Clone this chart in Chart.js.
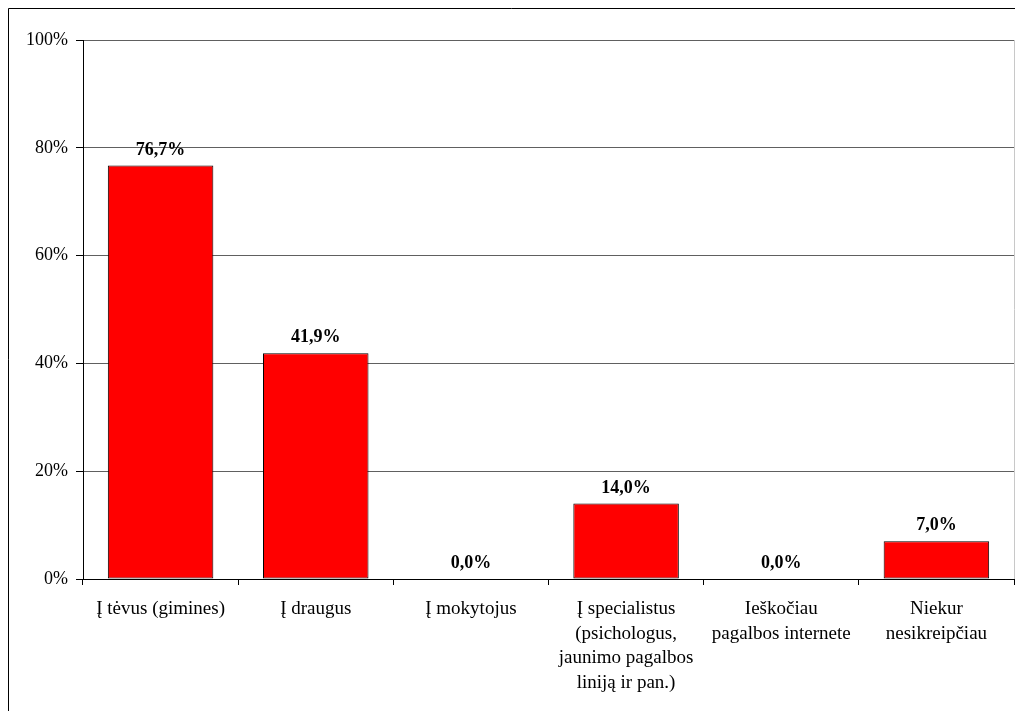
<!DOCTYPE html>
<html>
<head>
<meta charset="utf-8">
<script src="https://cdn.jsdelivr.net/npm/chart.js@4"></script>
<style>
  html, body { margin: 0; padding: 0; background: #fff; }
  #wrap { position: relative; width: 1015px; height: 711px; }
</style>
</head>
<body>
<div id="wrap"><canvas id="c" width="1015" height="711"></canvas></div>
<script>
// categories (multi-line labels as shown under the axis)
const categories = [
  ["Į tėvus (gimines)"],
  ["Į draugus"],
  ["Į mokytojus"],
  ["Į specialistus", "(psichologus,", "jaunimo pagalbos", "liniją ir pan.)"],
  ["Ieškočiau", "pagalbos internete"],
  ["Niekur", "nesikreipčiau"],
];
const values = [76.7, 41.9, 0.0, 14.0, 0.0, 7.0];
const yTicks = [0, 20, 40, 60, 80, 100];

const SERIF = "'Liberation Serif', 'Times New Roman', serif";

// outer frame (left + top edge of the chart object)
const framePlugin = {
  id: "frame",
  beforeDraw(chart) {
    const c = chart.ctx;
    c.save();
    c.fillStyle = "#fff";
    c.fillRect(0, 0, chart.width, chart.height);
    c.strokeStyle = "#000"; c.lineWidth = 1;
    c.beginPath();
    c.moveTo(8.5, chart.height); c.lineTo(8.5, 8.5); c.lineTo(chart.width, 8.5);
    c.stroke();
    // light plot-area border on the right
    const a = chart.chartArea;
    c.strokeStyle = "#c8c8c8";
    c.beginPath(); c.moveTo(a.right + 0.5, a.top); c.lineTo(a.right + 0.5, a.bottom); c.stroke();
    c.restore();
  }
};

// value labels above bars, "76,7%" style
const labelPlugin = {
  id: "vals",
  afterDatasetsDraw(chart) {
    const c = chart.ctx, meta = chart.getDatasetMeta(0);
    c.save();
    c.font = "bold 18px " + SERIF;
    c.fillStyle = "#000"; c.textAlign = "center"; c.textBaseline = "alphabetic";
    meta.data.forEach((bar, i) => {
      c.fillText(values[i].toFixed(1).replace(".", ",") + "%", bar.x, bar.y - 11);
    });
    c.restore();
  }
};

new Chart(document.getElementById("c"), {
  type: "bar",
  data: {
    labels: categories,
    datasets: [{
      data: values,
      backgroundColor: "#ff0000",
      borderColor: "#000",
      borderWidth: 1,
      borderSkipped: false,
      categoryPercentage: 0.68,
      barPercentage: 1.0,
    }]
  },
  options: {
    responsive: false,
    animation: false,
    devicePixelRatio: 1,
    layout: { padding: { left: 0, top: 40, right: 1, bottom: 0 } },
    plugins: { legend: { display: false }, tooltip: { enabled: false } },
    scales: {
      x: {
        grid: { offset: true, drawOnChartArea: false, drawTicks: true, tickLength: 6, color: "#000" },
        border: { display: true, color: "#000" },
        ticks: { color: "#000", font: { family: SERIF, size: 19, lineHeight: 1.29 }, padding: 12, maxRotation: 0, autoSkip: false },
        afterFit: (s) => { s.height = 132; },
      },
      y: {
        min: 0, max: 100,
        afterBuildTicks: (s) => { s.ticks = yTicks.map(v => ({ value: v })); },
        grid: { color: "#606060", tickLength: 7, tickColor: "#000" },
        border: { display: true, color: "#000" },
        ticks: { color: "#000", font: { family: SERIF, size: 18 }, padding: 8, callback: v => v + "%" },
        afterFit: (s) => { s.width = 83; },
      }
    }
  },
  plugins: [framePlugin, labelPlugin]
});
</script>
</body>
</html>
